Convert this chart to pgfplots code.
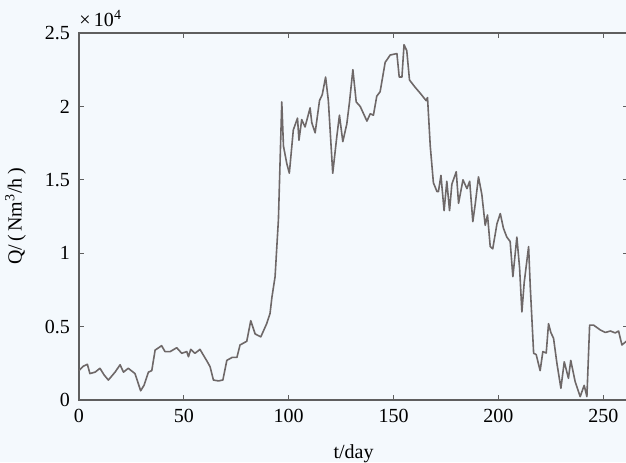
\documentclass[border=0pt]{standalone}
\usepackage{fontspec}
\setmainfont{Liberation Serif}
\usepackage{pgfplots}
\pgfplotsset{compat=1.18}
\usetikzlibrary{backgrounds}
\definecolor{bgc}{RGB}{244,249,253}
\definecolor{linec}{RGB}{110,104,104}
\definecolor{axc}{RGB}{95,95,95}
\pgfplotstableread{
x y
0 0.20
2 0.23
4 0.243
5.2 0.18
7.7 0.19
10 0.216
12 0.17
14 0.136
17.2 0.19
19.6 0.24
21.2 0.19
23.5 0.216
26.7 0.18
29.4 0.063
31 0.10
33.1 0.19
34.7 0.20
36.3 0.34
39.4 0.37
41 0.33
43.5 0.33
46.6 0.356
49 0.318
51.4 0.33
52.2 0.295
53.3 0.345
55.3 0.318
57.7 0.345
59.3 0.306
60.9 0.268
62.5 0.227
64.1 0.136
66.5 0.13
68.6 0.136
70.5 0.27
73 0.29
75.3 0.29
76.8 0.375
80 0.40
81.9 0.54
84 0.45
86.7 0.43
89.5 0.52
91.1 0.59
92 0.70
93.5 0.84
95.1 1.23
95.9 1.63
96.7 2.03
97.5 1.73
99.1 1.61
100.3 1.545
102.2 1.84
104.2 1.92
104.9 1.77
106.2 1.91
107.8 1.86
110.2 1.99
111 1.89
112.6 1.82
114.7 2.04
116 2.08
117.6 2.20
118.9 2.04
121 1.545
122.9 1.79
124.2 1.94
125.8 1.76
127.7 1.88
129 2.03
130.6 2.25
132.2 2.03
134.1 2.00
137.3 1.90
138.9 1.95
140.4 1.94
142 2.07
143.6 2.10
146 2.30
148.4 2.35
151.6 2.36
152.7 2.20
154 2.20
155 2.42
156.3 2.38
157.6 2.18
160.3 2.13
162.7 2.09
165.5 2.04
166.2 2.06
167.5 1.73
169 1.48
170.7 1.42
171.4 1.42
172.6 1.53
174.1 1.29
175.4 1.49
176.7 1.29
177.8 1.47
179.9 1.555
181 1.34
183.1 1.50
185 1.44
186.3 1.49
187.8 1.215
189 1.34
190.5 1.52
192.1 1.40
193.7 1.19
194.8 1.26
196.1 1.045
197.3 1.03
199.3 1.20
200.9 1.27
202.4 1.17
204 1.11
205.6 1.08
206.9 0.84
208.8 1.11
210.1 0.90
211.2 0.60
212.3 0.80
214.4 1.045
215.2 0.77
216.8 0.318
218 0.31
219.9 0.20
221.2 0.33
222.8 0.32
223.9 0.52
225 0.46
226.3 0.42
227.9 0.25
229.8 0.08
231.4 0.26
233.4 0.148
234.5 0.27
236.6 0.125
239 0.023
240.9 0.10
242.2 0.023
243.5 0.51
245.4 0.51
248.6 0.477
251 0.46
253.4 0.47
255.7 0.457
257.3 0.47
258.9 0.375
261 0.40
}\datatable
\begin{document}
\begin{tikzpicture}
\begin{axis}[
  scale only axis,
  width=274.5pt, height=183.5pt,
  xmin=0, xmax=261.8, ymin=0, ymax=2.5,
  xtick={0,50,100,150,200,250},
  ytick={0,0.5,1,1.5,2,2.5},
  yticklabels={0,0.5,1,1.5,2,2.5},
  tick pos=both, tick align=inside,
  major tick length=2.5pt,
  every tick/.style={axc, line width=0.6pt},
  axis line style={axc, line width=0.7pt},
  /pgf/number format/assume math mode=true,
  tick label style={font=\fontsize{10}{12}\selectfont, black},
  xticklabel style={yshift=-1pt},
  yticklabel style={xshift=-1pt},
  label style={font=\fontsize{10}{12}\selectfont},
  xlabel={t/day},
  xlabel style={at={(axis description cs:0.5,0)}, anchor=north, yshift=-19pt},
  ylabel={Q/\,(\,Nm\textsuperscript{3}/h\,)},
  ylabel style={at={(axis description cs:0,0.5)}, anchor=south, yshift=23pt},
  clip mode=individual,
]
\addplot[color=linec, line width=0.8pt, line join=round] table[x=x,y=y] {\datatable};
\end{axis}
\node[anchor=south west, inner sep=0pt, font=\fontsize{10}{12}\selectfont] at ([yshift=3pt]current axis.north west) {×\,10\textsuperscript{4}};
\pgfresetboundingbox
\useasboundingbox ([xshift=-39.5pt,yshift=-31pt]current axis.south west) rectangle ([xshift=-1pt,yshift=16.5pt]current axis.north east);
\begin{scope}[on background layer]
\fill[bgc] ([xshift=-39.5pt,yshift=-31pt]current axis.south west) rectangle ([xshift=-1pt,yshift=16.5pt]current axis.north east);
\end{scope}
\end{tikzpicture}
\end{document}
